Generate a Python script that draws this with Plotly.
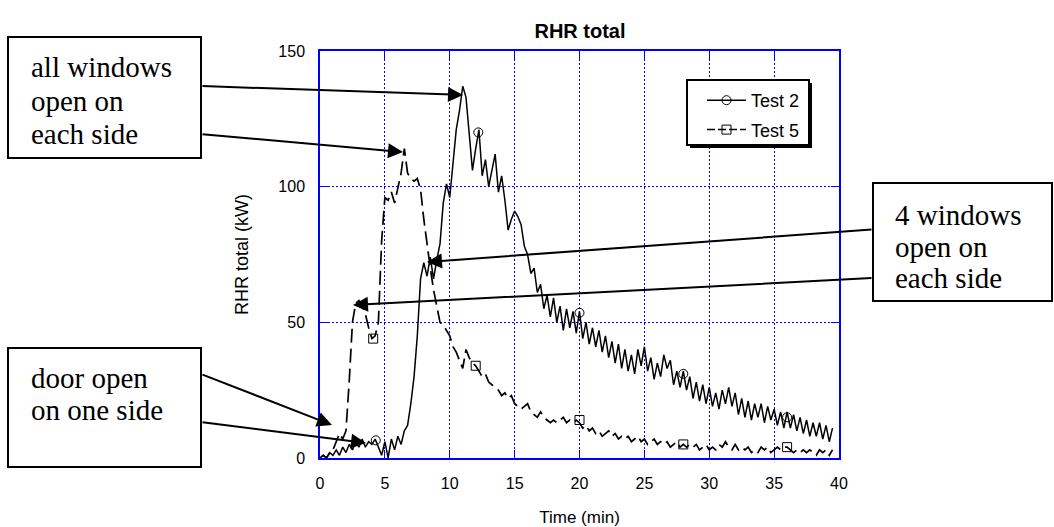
import numpy as np
import plotly.graph_objects as go

# ---------------- data ----------------
time_min = np.round(np.arange(0, 39.6, 0.25), 2)

test2 = [
    0, 1, 0, 2, 1, 3, 1, 4,
    2, 5, 3, 6, 4, 7, 4, 6,
    5, 7, 4, 1, 6, 0, 7, 3,
    8, 5, 10, 12, 20, 30, 45, 66,
    72, 67, 74, 66, 73, 79, 94, 101,
    96, 110, 121, 128, 137, 133, 118, 106,
    114, 121, 104, 110, 100, 106, 112, 98,
    104, 95, 84, 88, 91, 89, 86, 78,
    75, 68, 70, 61, 64, 55, 60, 52,
    59, 50, 56, 47, 55, 48, 54, 46,
    54, 44, 50, 42, 48, 41, 47, 39,
    45, 37, 43, 35, 42, 33, 40, 32,
    38, 31, 40, 34, 41, 32, 37, 29,
    35, 30, 38, 33, 36, 27, 32, 26,
    32, 25, 30, 22, 28, 21, 27, 20,
    26, 19, 24, 18, 25, 20, 26, 19,
    24, 16, 22, 15, 21, 14, 20, 15,
    20, 13, 19, 14, 18, 12, 17, 11,
    17, 11, 16, 10, 15, 9, 14, 8,
    13, 8, 13, 7, 12, 6, 11,
]

test5 = [
    0, 1, 0, 2, 3, 6, 9, 7,
    10, 28, 50, 57, 58, 56, 53, 48,
    44, 45, 50, 80, 96, 95, 98, 94,
    100, 105, 114, 105, 103, 102, 103, 99,
    88, 78, 70, 62, 56, 50, 49, 47,
    45, 41, 39, 36, 33, 40, 37, 35,
    34, 32, 30, 31, 28, 27, 26, 25,
    23, 24, 22, 23, 20, 19, 18, 19,
    20, 17, 16, 15, 17, 15, 14, 13,
    14, 13, 14, 15, 13, 14, 13, 14,
    13, 11, 12, 10, 11, 9, 10, 8,
    9, 10, 8, 9, 7, 8, 7, 8,
    6, 7, 8, 6, 7, 5, 6, 7,
    5, 6, 5, 6, 4, 5, 6, 4,
    5, 4, 5, 4, 5, 3, 4, 5,
    3, 4, 3, 5, 4, 6, 4, 3,
    5, 3, 4, 3, 4, 2, 3, 2,
    4, 3, 4, 2, 3, 4, 3, 4,
    4, 3, 2, 3, 2, 3, 2, 3,
    2, 1, 3, 2, 3, 1, 3,
]

marker2_t = [4.3, 12.2, 20.0, 28.0, 36.0]
marker2_v = [6.5, 120, 53.5, 31, 15]
marker5_t = [4.1, 12.0, 20.0, 28.0, 36.0]
marker5_v = [44, 34, 14, 5, 4]

series_names = ["Test 2", "Test 5"]
x_ticks = [0, 5, 10, 15, 20, 25, 30, 35, 40]
y_ticks = [0, 50, 100, 150]

# ---------------- layout helpers (pixel -> paper) ----------------
W, H = 1054, 527
L, R, T, B = 320, 215, 51, 69
PW = W - L - R
PH = H - T - B


def px(xpix):
    return (xpix - L) / PW


def py(ypix):
    return (H - B - ypix) / PH


BLUE = "#0000FF"
DASH5 = "14px,6px"
SANS = "Liberation Sans, Arial, sans-serif"
SERIF = "Liberation Serif, Times New Roman, serif"

fig = go.Figure()

fig.add_trace(go.Scatter(x=time_min, y=test2, mode="lines",
                         line=dict(color="black", width=1.5),
                         showlegend=False, hoverinfo="skip"))
fig.add_trace(go.Scatter(x=time_min, y=test5, mode="lines",
                         line=dict(color="black", width=1.7, dash=DASH5),
                         showlegend=False, hoverinfo="skip"))
fig.add_trace(go.Scatter(x=marker2_t, y=marker2_v, mode="markers",
                         marker=dict(symbol="circle-open", size=9, color="black",
                                     line=dict(width=1, color="black")),
                         showlegend=False))
fig.add_trace(go.Scatter(x=marker5_t, y=marker5_v, mode="markers",
                         marker=dict(symbol="square-open", size=9, color="black",
                                     line=dict(width=1, color="black")),
                         showlegend=False))
# legend entries
fig.add_trace(go.Scatter(x=[None], y=[None], mode="lines+markers", name=series_names[0],
                         legendgroup="a",
                         line=dict(color="black", width=1.5),
                         marker=dict(symbol="circle-open", size=9, color="black")))
fig.add_trace(go.Scatter(x=[None], y=[None], mode="lines+markers", name=series_names[1],
                         legendgroup="b",
                         line=dict(color="black", width=1.5, dash="8px,3px"),
                         marker=dict(symbol="square-open", size=9, color="black")))

shapes = []
# legend box with shadow
shapes.append(dict(type="rect", xref="paper", yref="paper", layer="above",
                   x0=px(690), x1=px(812), y0=py(148), y1=py(83),
                   fillcolor="black", line=dict(width=0)))
shapes.append(dict(type="rect", xref="paper", yref="paper", layer="above",
                   x0=px(687), x1=px(809), y0=py(145), y1=py(80),
                   fillcolor="white", line=dict(width=2, color="black")))
# annotation boxes
for (x0, y0, x1, y1) in [(8, 37, 201, 158), (8, 348, 201, 467), (873, 183, 1052, 301)]:
    shapes.append(dict(type="rect", xref="paper", yref="paper", layer="above",
                       x0=px(x0), x1=px(x1), y0=py(y1), y1=py(y0),
                       fillcolor="white", line=dict(width=2, color="black")))

annotations = []
# box texts, one annotation per line (baseline pixel y)
lines = [
    ("all windows", 29, 75), ("open on", 29, 108.5), ("each side", 29, 142),
    ("door open", 29, 386), ("on one side", 29, 418),
    ("4 windows", 893, 223), ("open on", 893, 255), ("each side", 893, 286),
]
for txt, xl, base in lines:
    annotations.append(dict(text=txt, xref="paper", yref="paper",
                            x=px(xl), y=py(base - 8), xanchor="left", yanchor="middle",
                            showarrow=False,
                            font=dict(family=SERIF, size=29, color="black")))

# arrows: (tail x, tail y, tip x, tip y) in pixels
arrows = [
    (201, 86, 463, 95),
    (201, 134, 403, 152),
    (201, 374, 332, 425),
    (201, 422, 366, 443),
    (873, 229.5, 427, 262),
    (873, 278, 353, 305),
]
for tx, ty, hx, hy in arrows:
    annotations.append(dict(text="", xref="paper", yref="paper",
                            x=px(hx), y=py(hy), ax=tx - hx, ay=ty - hy,
                            axref="pixel", ayref="pixel",
                            showarrow=True, arrowhead=2, arrowsize=1.5,
                            arrowwidth=2, arrowcolor="black", standoff=0,
                            startstandoff=0))

axis_common = dict(showgrid=True, gridcolor=BLUE, griddash="2px,2px", gridwidth=1,
                   showline=True, linecolor=BLUE, linewidth=1.5, mirror="ticks",
                   ticks="inside", ticklen=8, tickcolor=BLUE, tickwidth=1,
                   ticklabelstandoff=10, automargin=False,
                   zeroline=False, tickfont=dict(family=SANS, size=16, color="black"))

fig.update_layout(
    width=W, height=H, autosize=False,
    margin=dict(l=L, r=R, t=T, b=B),
    paper_bgcolor="white", plot_bgcolor="white",
    title=dict(text="<b>RHR total</b>", x=px(580), xref="paper", xanchor="center",
               y=1 - 31 / H, yref="container", yanchor="middle",
               font=dict(family=SANS, size=20, color="black")),
    xaxis=dict(range=[0, 40], tickvals=x_ticks, ticktext=[str(v) for v in x_ticks],
               title=dict(text="Time (min)", font=dict(family=SANS, size=17, color="black"),
                          standoff=20),
               **axis_common),
    yaxis=dict(range=[0, 150], tickvals=y_ticks, ticktext=[str(v) for v in y_ticks],
               title=dict(text="RHR total (kW)", font=dict(family=SANS, size=18, color="black"),
                          standoff=25),
               **axis_common),
    legend=dict(x=px(702), y=py(82), xanchor="left", yanchor="top",
                bgcolor="rgba(0,0,0,0)", borderwidth=0, tracegroupgap=3,
                itemwidth=39,
                font=dict(family=SANS, size=18, color="black")),
    shapes=shapes,
    annotations=annotations,
)

fig.write_html("out.html")
